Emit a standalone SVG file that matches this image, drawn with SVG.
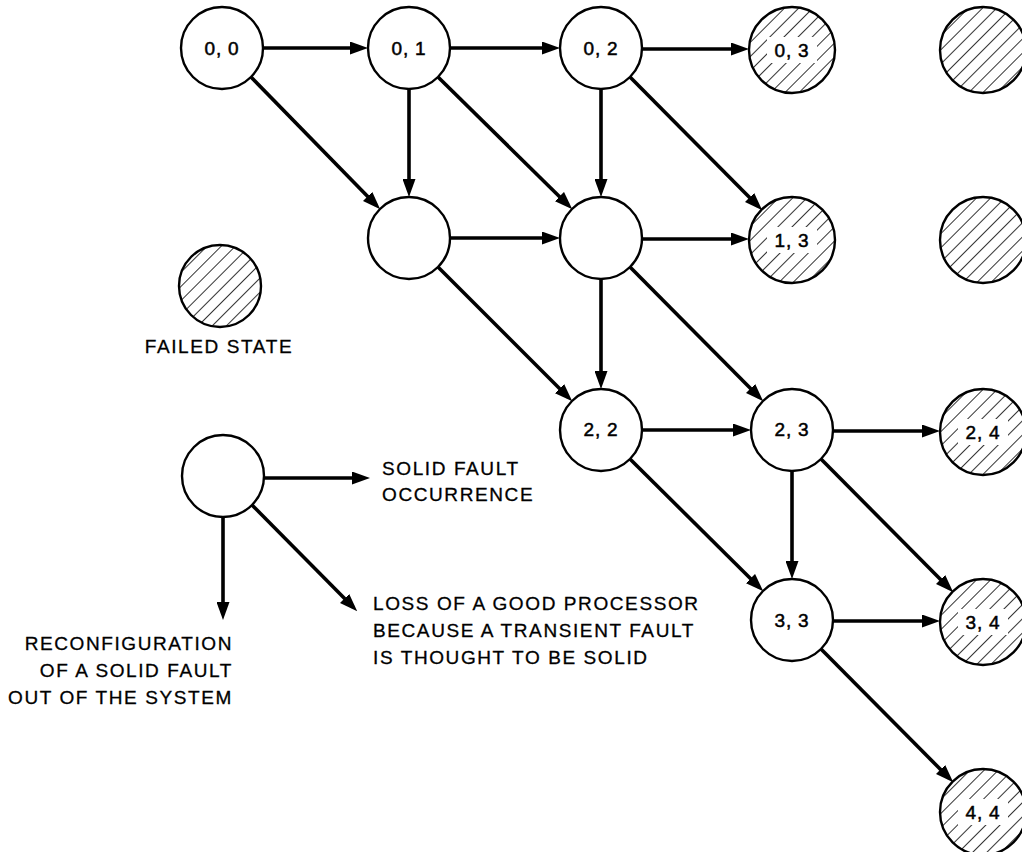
<svg xmlns="http://www.w3.org/2000/svg" width="1022" height="852" viewBox="0 0 1022 852">
<style>
.n{fill:#fff;stroke:#000;stroke-width:2.4}
.h{fill:url(#hatch);stroke:#000;stroke-width:2.4}
.hb{fill:#fff;stroke:none}
.lbl{font-family:"Liberation Sans",Arial,sans-serif;font-size:19px;fill:#000;stroke:#000;stroke-width:0.5;text-anchor:middle;letter-spacing:0.8px}
.t{font-family:"Liberation Sans",Arial,sans-serif;font-size:19px;fill:#000;stroke:#000;stroke-width:0.3;letter-spacing:1.6px}
.e{stroke:#000;stroke-width:3.6;fill:none;marker-end:url(#ah)}
</style>
<defs>
<pattern id="hatch" patternUnits="userSpaceOnUse" width="10" height="10" patternTransform="rotate(45)">
<rect width="10" height="10" fill="#fff"/>
<line x1="0" y1="0" x2="0" y2="10" stroke="#000" stroke-width="1.6"/>
</pattern>
<marker id="ah" markerUnits="userSpaceOnUse" markerWidth="18" markerHeight="13" refX="12" refY="6.5" orient="auto">
<path d="M0,0 L18,6.5 L0,13 Z" fill="#000"/>
</marker>
</defs>
<g id="connectors">
<line class="e" x1="263" y1="48" x2="362" y2="48"/>
<line class="e" x1="450" y1="48" x2="554" y2="48"/>
<line class="e" x1="642" y1="49" x2="743" y2="49"/>
<line class="e" x1="450" y1="238" x2="554" y2="238"/>
<line class="e" x1="642" y1="239" x2="743" y2="239"/>
<line class="e" x1="642" y1="430" x2="745" y2="430"/>
<line class="e" x1="833" y1="431" x2="934" y2="431"/>
<line class="e" x1="833" y1="621" x2="934" y2="621"/>
<line class="e" x1="409" y1="89" x2="409" y2="191"/>
<line class="e" x1="601" y1="89" x2="601" y2="191"/>
<line class="e" x1="601" y1="279" x2="601" y2="383"/>
<line class="e" x1="792" y1="471" x2="792" y2="573"/>
<line class="e" x1="251" y1="77" x2="376" y2="205"/>
<line class="e" x1="438" y1="77" x2="568" y2="205"/>
<line class="e" x1="630" y1="77" x2="758" y2="206"/>
<line class="e" x1="438" y1="267" x2="568" y2="397"/>
<line class="e" x1="630" y1="267" x2="759" y2="397"/>
<line class="e" x1="630" y1="459" x2="759" y2="587"/>
<line class="e" x1="821" y1="459" x2="949" y2="588"/>
<line class="e" x1="821" y1="649" x2="949" y2="778"/>
<line class="e" x1="264" y1="478" x2="364" y2="478"/>
<line class="e" x1="223" y1="517" x2="223" y2="614"/>
<line class="e" x1="252" y1="505" x2="353" y2="607"/>
</g>
<g id="n00"><circle class="n" cx="222" cy="48" r="41"/><text class="lbl" x="222" y="55">0, 0</text></g>
<g id="n01"><circle class="n" cx="409" cy="48" r="41"/><text class="lbl" x="409" y="55">0, 1</text></g>
<g id="n02"><circle class="n" cx="601" cy="48" r="41"/><text class="lbl" x="601" y="55">0, 2</text></g>
<g id="n03"><circle class="h" cx="792" cy="50" r="43"/><rect class="hb" x="767" y="37" width="50" height="26"/><text class="lbl" x="792" y="57">0, 3</text></g>
<g id="n04"><circle class="h" cx="983" cy="50" r="43"/></g>
<g id="n11"><circle class="n" cx="409" cy="238" r="41"/></g>
<g id="n12"><circle class="n" cx="601" cy="238" r="41"/></g>
<g id="n13"><circle class="h" cx="792" cy="240" r="43"/><rect class="hb" x="767" y="227" width="50" height="26"/><text class="lbl" x="792" y="247">1, 3</text></g>
<g id="n14"><circle class="h" cx="983" cy="240" r="43"/></g>
<g id="legend-failed"><circle class="h" cx="220" cy="286" r="41"/><text class="t" x="219" y="353" text-anchor="middle">FAILED STATE</text></g>
<g id="n22"><circle class="n" cx="601" cy="430" r="41"/><text class="lbl" x="601" y="436">2, 2</text></g>
<g id="n23"><circle class="n" cx="792" cy="430" r="41"/><text class="lbl" x="792" y="436">2, 3</text></g>
<g id="n24"><circle class="h" cx="983" cy="432" r="43"/><rect class="hb" x="958" y="419" width="50" height="26"/><text class="lbl" x="983" y="439">2, 4</text></g>
<g id="n33"><circle class="n" cx="792" cy="620" r="41"/><text class="lbl" x="792" y="627">3, 3</text></g>
<g id="n34"><circle class="h" cx="983" cy="622" r="43"/><rect class="hb" x="958" y="609" width="50" height="26"/><text class="lbl" x="983" y="629">3, 4</text></g>
<g id="n44"><circle class="h" cx="983" cy="812" r="43"/><rect class="hb" x="958" y="799" width="50" height="26"/><text class="lbl" x="983" y="819">4, 4</text></g>
<g id="legend"><circle class="n" cx="223" cy="476" r="41"/>
<text class="t" x="382" y="475">SOLID FAULT</text>
<text class="t" x="382" y="501">OCCURRENCE</text>
<text class="t" x="373" y="610">LOSS OF A GOOD PROCESSOR</text>
<text class="t" x="373" y="637">BECAUSE A TRANSIENT FAULT</text>
<text class="t" x="373" y="664">IS THOUGHT TO BE SOLID</text>
<text class="t" x="233" y="650" text-anchor="end">RECONFIGURATION</text>
<text class="t" x="233" y="677" text-anchor="end">OF A SOLID FAULT</text>
<text class="t" x="233" y="704" text-anchor="end">OUT OF THE SYSTEM</text>
</g>
</svg>
